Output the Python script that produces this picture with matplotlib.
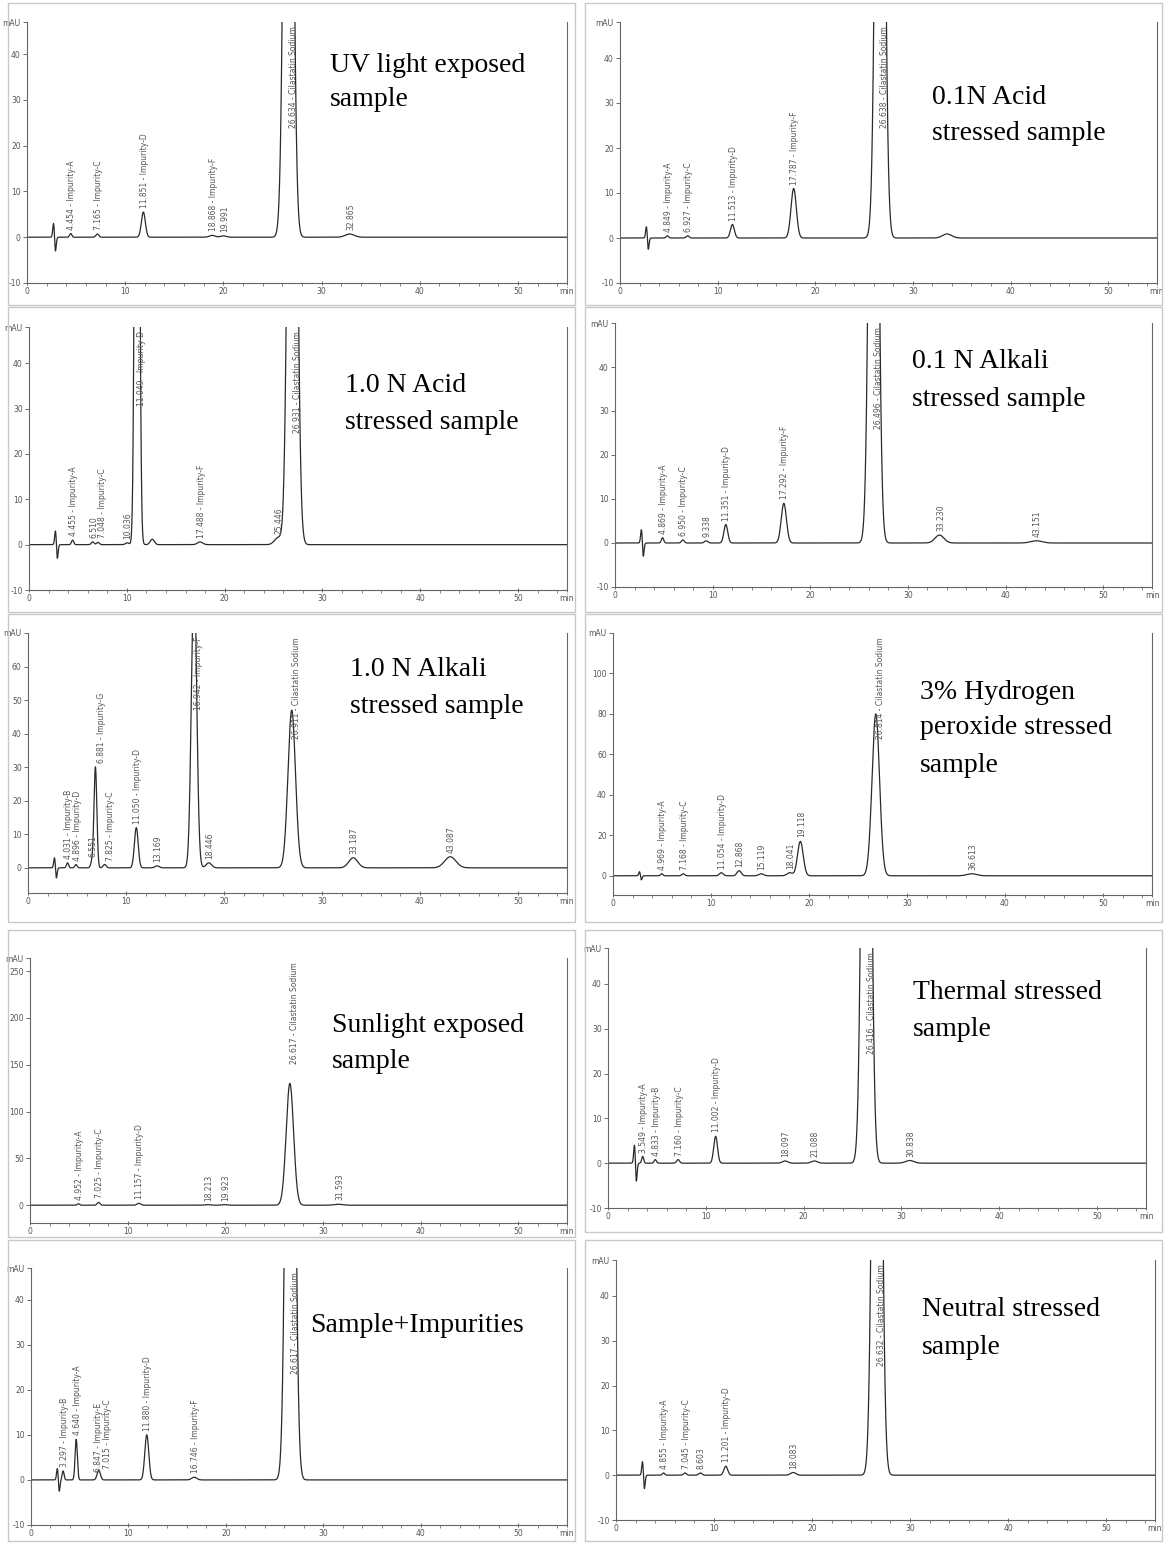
"""Forced degradation chromatograms (10 panels, 2 columns)."""

import numpy as np
import matplotlib.pyplot as plt
from matplotlib.patches import Rectangle

W, H = 1167, 1544
DRUG = 'Cilastatin Sodium'

# ── data: retention time [min], peak height [mAU], peak label ────────────────

uv_rt  = [4.454, 7.165, 11.851, 18.868, 19.991, 26.634, 32.865]
uv_h   = [0.8, 0.7, 5.5, 0.4, 0.3, 210, 0.7]
uv_lab = ['4.454 - Impurity-A', '7.165 - Impurity-C', '11.851 - Impurity-D',
          '18.868 - Impurity-F', '19.991', '26.634 - ' + DRUG, '32.865']

acid01_rt  = [4.849, 6.927, 11.513, 17.787, 26.638, 33.5]
acid01_h   = [0.5, 0.5, 3.0, 11.0, 210, 0.9]
acid01_lab = ['4.849 - Impurity-A', '6.927 - Impurity-C', '11.513 - Impurity-D',
              '17.787 - Impurity-F', '26.638 - ' + DRUG, '']

acid10_rt  = [4.455, 6.510, 7.048, 10.036, 11.049, 12.6, 17.488, 25.446, 26.931]
acid10_h   = [1.0, 0.6, 0.5, 0.4, 220, 1.2, 0.6, 1.5, 200]
acid10_lab = ['4.455 - Impurity-A', '6.510', '7.048 - Impurity-C', '10.036',
              '11.049 - Impurity-D', '', '17.488 - Impurity-F', '25.446',
              '26.931 - ' + DRUG]

alk01_rt  = [4.869, 6.950, 9.338, 11.351, 17.292, 26.496, 33.230, 43.151]
alk01_h   = [1.2, 0.7, 0.5, 4.2, 9.0, 210, 1.8, 0.5]
alk01_lab = ['4.869 - Impurity-A', '6.950 - Impurity-C', '9.338',
             '11.351 - Impurity-D', '17.292 - Impurity-F', '26.496 - ' + DRUG,
             '33.230', '43.151']

alk10_rt  = [4.031, 4.896, 6.551, 6.881, 7.825, 11.050, 13.169, 16.942,
             18.446, 26.911, 33.187, 43.087]
alk10_h   = [1.5, 1.0, 2.0, 30.0, 1.0, 12.0, 0.6, 90, 1.5, 47, 3.0, 3.3]
alk10_lab = ['4.031 - Impurity-B', '4.896 - Impurity-D', '6.551',
             '6.881 - Impurity-G', '7.825 - Impurity-C', '11.050 - Impurity-D',
             '13.169', '16.942 - Impurity-F', '18.446', '26.911 - ' + DRUG,
             '33.187', '43.087']

h2o2_rt  = [4.969, 7.168, 11.054, 12.868, 15.119, 18.041, 19.118, 26.814, 36.613]
h2o2_h   = [1.0, 1.0, 1.5, 2.5, 1.0, 1.5, 17.0, 80, 1.0]
h2o2_lab = ['4.969 - Impurity-A', '7.168 - Impurity-C', '11.054 - Impurity-D',
            '12.868', '15.119', '18.041', '19.118', '26.814 - ' + DRUG, '36.613']

sun_rt  = [4.952, 7.025, 11.157, 18.213, 19.923, 26.617, 31.593]
sun_h   = [1.5, 3.0, 2.0, 0.6, 0.6, 130, 1.0]
sun_lab = ['4.952 - Impurity-A', '7.025 - Impurity-C', '11.157 - Impurity-D',
           '18.213', '19.923', '26.617 - ' + DRUG, '31.593']

therm_rt  = [3.549, 4.833, 7.160, 11.002, 18.097, 21.088, 26.416, 30.838]
therm_h   = [1.5, 0.8, 0.8, 6.0, 0.5, 0.5, 210, 0.6]
therm_lab = ['3.549 - Impurity-A', '4.833 - Impurity-B', '7.160 - Impurity-C',
             '11.002 - Impurity-D', '18.097', '21.088', '26.416 - ' + DRUG,
             '30.838']

mix_rt  = [3.297, 4.640, 6.847, 7.015, 11.880, 16.746, 26.617]
mix_h   = [2.0, 9.0, 1.0, 1.5, 10.0, 0.6, 210]
mix_lab = ['3.297 - Impurity-B', '4.640 - Impurity-A', '6.847 - Impurity-E',
           '7.015 - Impurity-C', '11.880 - Impurity-D', '16.746 - Impurity-F',
           '26.617 - ' + DRUG]

neut_rt  = [4.855, 7.045, 8.603, 11.201, 18.083, 26.632]
neut_h   = [0.5, 0.5, 0.5, 2.0, 0.6, 210]
neut_lab = ['4.855 - Impurity-A', '7.045 - Impurity-C', '8.603',
            '11.201 - Impurity-D', '18.083', '26.632 - ' + DRUG]

# system (void) disturbance amplitude at ~2.8 min, mAU
spike_amp = {'uv': 3, 'acid01': 2.5, 'acid10': 3, 'alk01': 3, 'alk10': 3,
             'h2o2': 2, 'sun': 0, 'therm': 4, 'mix': 2.5, 'neut': 3}

titles = {
    'uv':     ['UV light exposed', 'sample'],
    'acid01': ['0.1N Acid', 'stressed sample'],
    'acid10': ['1.0 N Acid', 'stressed sample'],
    'alk01':  ['0.1 N Alkali', 'stressed sample'],
    'alk10':  ['1.0 N Alkali', 'stressed sample'],
    'h2o2':   ['3% Hydrogen', 'peroxide stressed', 'sample'],
    'sun':    ['Sunlight exposed', 'sample'],
    'therm':  ['Thermal stressed', 'sample'],
    'mix':    ['Sample+Impurities'],
    'neut':   ['Neutral stressed', 'sample'],
}

y_ticks = {
    'uv': [-10, 0, 10, 20, 30, 40], 'acid01': [-10, 0, 10, 20, 30, 40],
    'acid10': [-10, 0, 10, 20, 30, 40], 'alk01': [-10, 0, 10, 20, 30, 40],
    'alk10': [0, 10, 20, 30, 40, 50, 60], 'h2o2': [0, 20, 40, 60, 80, 100],
    'sun': [0, 50, 100, 150, 200, 250], 'therm': [-10, 0, 10, 20, 30, 40],
    'mix': [-10, 0, 10, 20, 30, 40], 'neut': [-10, 0, 10, 20, 30, 40],
}

DATA = {
    'uv': (uv_rt, uv_h, uv_lab), 'acid01': (acid01_rt, acid01_h, acid01_lab),
    'acid10': (acid10_rt, acid10_h, acid10_lab),
    'alk01': (alk01_rt, alk01_h, alk01_lab),
    'alk10': (alk10_rt, alk10_h, alk10_lab),
    'h2o2': (h2o2_rt, h2o2_h, h2o2_lab), 'sun': (sun_rt, sun_h, sun_lab),
    'therm': (therm_rt, therm_h, therm_lab), 'mix': (mix_rt, mix_h, mix_lab),
    'neut': (neut_rt, neut_h, neut_lab),
}

# ── layout (pixels): axes x0, x1, y_top, y_bottom, ylim, title x, title line y's
LAYOUT = {
    'uv':     (27, 567, 22, 283, (-10, 47), 330, [65, 100]),
    'acid01': (620, 1157, 22, 283, (-10, 48), 932, [97, 133]),
    'acid10': (29, 567, 327, 590, (-10, 48), 345, [385, 422]),
    'alk01':  (615, 1152, 323, 587, (-10, 50), 912, [362, 400]),
    'alk10':  (28, 567, 633, 893, (-7.5, 70), 350, [670, 706]),
    'h2o2':   (613, 1152, 633, 895, (-9.5, 120), 920, [692, 728, 765]),
    'sun':    (30, 567, 958, 1223, (-19, 264), 332, [1025, 1062]),
    'therm':  (608, 1146, 948, 1208, (-10, 48), 913, [993, 1030]),
    'mix':    (31, 567, 1268, 1525, (-10, 47), 310, [1325]),
    'neut':   (616, 1155, 1260, 1520, (-10, 48), 922, [1310, 1348]),
}

FRAMES = [(8, 3, 575, 305), (585, 3, 1162, 305),
          (8, 307, 575, 612), (585, 307, 1162, 612),
          (8, 614, 575, 922), (585, 614, 1162, 922),
          (8, 930, 575, 1237), (585, 930, 1162, 1232),
          (8, 1240, 575, 1541), (585, 1240, 1162, 1541)]

LINE = '#2a2a2a'
GREY = '#555555'
LAB_GAP = 0.9   # min spacing of neighbouring vertical labels, minutes


def _trace(rt, h, spike):
    t = np.linspace(0, 55, 5000)
    y = np.zeros_like(t)
    for r, a in zip(rt, h):
        s = 0.06 + 0.012 * r
        y += a * np.exp(-0.5 * ((t - r) / s) ** 2)
    d = (t - 2.8) / 0.1
    y += -spike * 1.65 * d * np.exp(-0.5 * d ** 2)
    return t, y


def _panel(fig, key):
    x0, x1, yt, yb, ylim, tx, tys = LAYOUT[key]
    rt, h, lab = DATA[key]
    ax = fig.add_axes([x0 / W, 1 - yb / H, (x1 - x0) / W, (yb - yt) / H])

    t, y = _trace(rt, h, spike_amp[key])
    ax.plot(t, y, color=LINE, lw=0.9)
    ax.set_xlim(0, 55)
    ax.set_ylim(*ylim)

    top, bot = ylim[1], ylim[0]
    pad = 0.015 * (top - bot)
    last = -99.0
    for r, a, s in zip(rt, h, lab):
        if not s:
            continue
        off_scale = a > 0.45 * top
        lx = r + (0.5 if off_scale else 0.1)
        lx = max(lx, last + LAB_GAP)
        last = lx
        if off_scale:
            ax.text(lx, top - pad, s, rotation=90, va='top', ha='center',
                    fontsize=5.5, color=GREY)
        else:
            ax.text(lx, a + pad, s, rotation=90, va='bottom', ha='center',
                    fontsize=5.5, color=GREY)

    # axes cosmetics, mimicking the instrument printout
    for side in ('left', 'right', 'bottom'):
        ax.spines[side].set_color('#666666')
        ax.spines[side].set_linewidth(0.8)
    ax.spines['top'].set_visible(False)

    ax.set_xticks([0, 10, 20, 30, 40, 50, 55])
    ax.set_xticklabels(['0', '10', '20', '30', '40', '50', 'min'])
    ax.set_xticks(np.arange(0, 55, 2), minor=True)
    yt_ = y_ticks[key]
    ax.set_yticks(yt_ + [top])
    ax.set_yticklabels([str(v) for v in yt_] + ['mAU'])
    ax.tick_params(axis='both', labelsize=5.5, colors=GREY, length=3, width=0.6,
                   pad=1.5)
    ax.tick_params(axis='x', which='minor', length=2, width=0.5, colors=GREY)
    ax.tick_params(axis='x', direction='inout')
    ax.patch.set_alpha(0)

    for line, ty in zip(titles[key], tys):
        fig.text(tx / W, 1 - ty / H, line, fontsize=20, family='Liberation Serif',
                 ha='left', va='center', color='black')


fig = plt.figure(figsize=(W / 100, H / 100), dpi=100)
for fx0, fy0, fx1, fy1 in FRAMES:
    fig.patches.append(Rectangle((fx0 / W, 1 - fy1 / H), (fx1 - fx0) / W,
                                 (fy1 - fy0) / H, transform=fig.transFigure,
                                 fill=False, edgecolor='#c8c8c8', lw=1))
for k in LAYOUT:
    _panel(fig, k)

fig.savefig('out.png', dpi=100)
